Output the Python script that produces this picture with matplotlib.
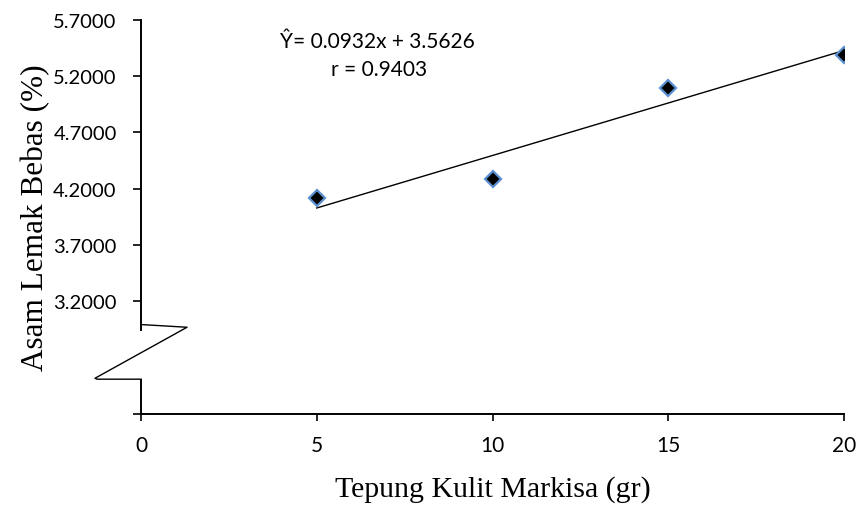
import matplotlib
matplotlib.use("Agg")
import matplotlib.pyplot as plt

# ---- data ----
x_values = [5, 10, 15, 20]
y_values = [4.12, 4.29, 5.09, 5.39]
slope = 0.0932
intercept = 3.5626
r_value = 0.9403
y_tick_values = [2.2, 3.2, 3.7, 4.2, 4.7, 5.2, 5.7]
y_tick_labels = ["", "3.2000", "3.7000", "4.2000", "4.7000", "5.2000", "5.7000"]
x_tick_values = [0, 5, 10, 15, 20]
x_tick_labels = ["0", "5", "10", "15", "20"]
x_label = "Tepung Kulit Markisa (gr)"
y_label = "Asam Lemak Bebas (%)"
eq_text = "\u0176= 0.0932x + 3.5626"
r_text = "r = 0.9403"

W, H = 861, 506
fig = plt.figure(figsize=(W / 100, H / 100), dpi=100)
ax_left, ax_right, ax_top, ax_bottom = 141, 844, 20.7, 415
ax = fig.add_axes([ax_left / W, 1 - ax_bottom / H, (ax_right - ax_left) / W, (ax_bottom - ax_top) / H])

sans = ["Lato", "DejaVu Sans"]
serif = ["Liberation Serif", "DejaVu Serif"]

ax.set_xlim(0, 20)
ax.set_ylim(2.2, 5.7)

# trend line
xl = [min(x_values), max(x_values)]
yl = [slope * v + intercept for v in xl]
ax.plot(xl, yl, color="black", lw=1.0, zorder=2)

# markers
ax.plot(x_values, y_values, linestyle="none", marker="D", ms=8.5,
        markerfacecolor="black", markeredgecolor="#5B8FCF", mew=1.6, zorder=3)

# spines
for s in ["top", "right"]:
    ax.spines[s].set_visible(False)
ax.spines["bottom"].set_linewidth(1.4)
ax.spines["left"].set_linewidth(1.4)
ax.spines["left"].set_bounds(2.95, 5.7)

# lower part of left axis + break mark
ax.plot([0, 0], [2.2, 2.509], color="black", lw=1.4, clip_on=False, solid_capstyle="butt")
ax.plot([0, 1.31, -1.31, -1.25, 0], [2.994, 2.97, 2.517, 2.509, 2.509],
        color="black", lw=1.0, clip_on=False)

ax.set_yticks(y_tick_values)
ax.set_yticklabels(y_tick_labels)
ax.set_xticks(x_tick_values)
ax.set_xticklabels(x_tick_labels)
ax.tick_params(axis="y", direction="out", length=5.5, width=1.2, pad=12, labelsize=14.5)
ax.tick_params(axis="x", direction="out", length=5, width=1.2, pad=10, labelsize=15)
for lab in ax.get_xticklabels() + ax.get_yticklabels():
    lab.set_family(sans)

# annotations
ax.text(0.3357, 0.946, eq_text, transform=ax.transAxes,
        fontsize=15, family=sans, ha="center", va="center")
ax.text(0.3385, 0.876, r_text, transform=ax.transAxes,
        fontsize=15, family=sans, ha="center", va="center")

fig.text(43 / W, 1 - 217.5 / H, y_label, rotation=90, rotation_mode="anchor",
         fontsize=22.5, family=serif, ha="center", va="baseline")
fig.text(492.5 / W, 1 - 497 / H, x_label, fontsize=21.5, family=serif,
         ha="center", va="baseline")

fig.savefig("out.png", dpi=100)
